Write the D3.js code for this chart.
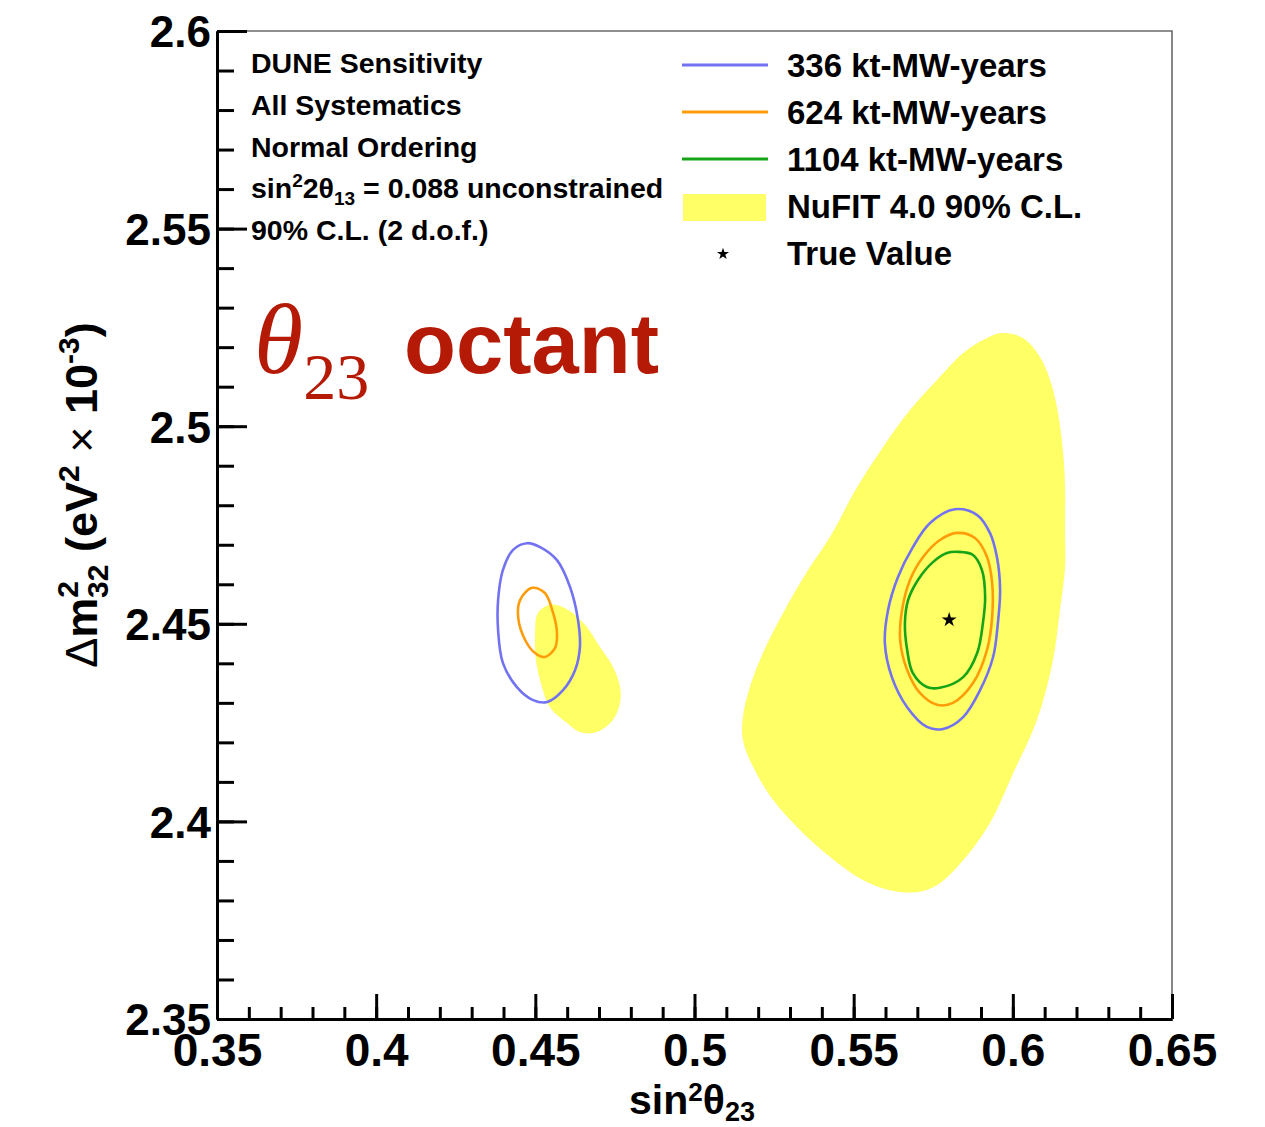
<!DOCTYPE html>
<html><head><meta charset="utf-8">
<script src="https://cdn.jsdelivr.net/npm/d3@7"></script>
<style>
html,body{margin:0;padding:0;background:#fff;}
svg{display:block;}
text{font-family:"Liberation Sans",Arial,sans-serif;font-weight:bold;fill:#000;}
</style></head>
<body>
<svg id="chart" width="1265" height="1127"></svg>
<script>
// ---------------- data (sin^2 theta23, dm2_32 x 1e-3) ----------------
const xTickValues = [0.35, 0.40, 0.45, 0.50, 0.55, 0.60, 0.65];
const xTickLabels = ["0.35", "0.4", "0.45", "0.5", "0.55", "0.6", "0.65"];
const yTickValues = [2.35, 2.40, 2.45, 2.50, 2.55, 2.60];
const yTickLabels = ["2.35", "2.4", "2.45", "2.5", "2.55", "2.6"];

const seriesNames = ["336 kt-MW-years", "624 kt-MW-years", "1104 kt-MW-years"];
const seriesColors = ["#7373f2", "#ff9c0a", "#17a317"];

const nufitUpper = [
  [0.5966,2.5236],[0.6032,2.5223],[0.6085,2.5175],[0.6117,2.5117],[0.6142,2.5033],[0.6158,2.4932],
  [0.6164,2.4846],[0.6164,2.4737],[0.6164,2.4644],[0.6148,2.4535],[0.6126,2.4408],[0.6076,2.4257],
  [0.6001,2.4122],[0.5928,2.3996],[0.5844,2.3902],[0.5762,2.3839],[0.5699,2.3821],[0.5614,2.3826],
  [0.5529,2.3852],[0.5426,2.3910],[0.5322,2.3986],[0.5247,2.4054],[0.5184,2.4138],[0.5152,2.4206],
  [0.5152,2.4264],[0.5174,2.4340],[0.5215,2.4426],[0.5278,2.4527],[0.5353,2.4631],[0.5426,2.4720],
  [0.5511,2.4846],[0.5592,2.4947],[0.5677,2.5041],[0.5762,2.5117],[0.5844,2.5185],[0.5906,2.5218]
];
const nufitLower = [
  [0.4546,2.4548],[0.4508,2.4527],[0.4499,2.4467],[0.4502,2.4408],[0.4515,2.4358],[0.4546,2.4289],
  [0.4600,2.4249],[0.4640,2.4226],[0.4694,2.4226],[0.4744,2.4257],[0.4766,2.4300],[0.4766,2.4340],
  [0.4744,2.4391],[0.4703,2.4441],[0.4662,2.4492],[0.4618,2.4527],[0.4578,2.4545]
];
const c336Lower = [
  [0.4474,2.4704],[0.4515,2.4694],[0.4568,2.4661],[0.4609,2.4593],[0.4634,2.4510],[0.4640,2.4441],
  [0.4625,2.4383],[0.4587,2.4332],[0.4537,2.4302],[0.4493,2.4307],[0.4442,2.4340],[0.4398,2.4401],
  [0.4383,2.4484],[0.4383,2.4560],[0.4398,2.4636],[0.4430,2.4687]
];
const c624Lower = [
  [0.4490,2.4591],[0.4530,2.4578],[0.4556,2.4527],[0.4568,2.4477],[0.4562,2.4439],[0.4530,2.4416],
  [0.4499,2.4426],[0.4468,2.4459],[0.4446,2.4517],[0.4452,2.4560]
];
const c336Upper = [
  [0.5818,2.4790],[0.5888,2.4775],[0.5928,2.4730],[0.5950,2.4669],[0.5960,2.4586],[0.5953,2.4502],
  [0.5938,2.4416],[0.5897,2.4332],[0.5844,2.4264],[0.5781,2.4234],[0.5730,2.4239],[0.5668,2.4289],
  [0.5620,2.4365],[0.5598,2.4451],[0.5608,2.4535],[0.5639,2.4618],[0.5686,2.4694],[0.5740,2.4755]
];
const c624Upper = [
  [0.5825,2.4730],[0.5881,2.4717],[0.5919,2.4669],[0.5935,2.4603],[0.5935,2.4517],[0.5919,2.4434],
  [0.5875,2.4350],[0.5812,2.4300],[0.5762,2.4295],[0.5708,2.4325],[0.5668,2.4383],[0.5646,2.4459],
  [0.5652,2.4535],[0.5677,2.4611],[0.5718,2.4669],[0.5771,2.4712]
];
const c1104Upper = [
  [0.5828,2.4682],[0.5875,2.4674],[0.5903,2.4636],[0.5913,2.4568],[0.5906,2.4502],[0.5888,2.4426],
  [0.5844,2.4365],[0.5771,2.4338],[0.5730,2.4340],[0.5686,2.4375],[0.5668,2.4434],[0.5661,2.4502],
  [0.5671,2.4560],[0.5702,2.4611],[0.5749,2.4656],[0.5793,2.4679]
];
const trueValue = [0.58, 2.451];

const infoLines = ["DUNE Sensitivity", "All Systematics", "Normal Ordering", "SIN13", "90% C.L. (2 d.o.f.)"];

// ---------------- drawing ----------------
const svg = d3.select("#chart");
const x = d3.scaleLinear().domain([0.35, 0.65]).range([217, 1172]);
const y = d3.scaleLinear().domain([2.35, 2.60]).range([1019, 31]);

const line = d3.line().x(d => x(d[0])).y(d => y(d[1])).curve(d3.curveCatmullRomClosed.alpha(0.5));

const gPlot = svg.append("g");
gPlot.selectAll("path.fill").data([nufitUpper, nufitLower]).join("path")
  .attr("d", line).attr("fill", "#ffff66").attr("stroke", "none");

const contours = [
  {pts: c336Lower, c: 0}, {pts: c624Lower, c: 1},
  {pts: c336Upper, c: 0}, {pts: c624Upper, c: 1}, {pts: c1104Upper, c: 2}
];
gPlot.selectAll("path.cont").data(contours).join("path")
  .attr("d", d => line(d.pts)).attr("fill", "none")
  .attr("stroke", d => seriesColors[d.c]).attr("stroke-width", 2.6);

const star = d3.symbol().type(d3.symbolStar).size(70);
gPlot.append("path").attr("d", star)
  .attr("transform", `translate(${x(trueValue[0])},${y(trueValue[1])})`).attr("fill", "#000");

// frame (top & right)
svg.append("path")
  .attr("d", `M${x(0.35)},${y(2.6)}H${x(0.65)}V${y(2.35)}`)
  .attr("fill", "none").attr("stroke", "#6a6a6a").attr("stroke-width", 1.6);

// x axis
const xMinor = d3.range(0, 31).map(i => 0.35 + i * 0.01);
const gx = svg.append("g").attr("transform", `translate(0,${y(2.35)})`);
gx.call(d3.axisBottom(x).tickValues(xMinor).tickSize(-12).tickSizeOuter(0).tickFormat(""));
gx.append("g").call(d3.axisBottom(x).tickValues(xTickValues).tickSize(-25).tickSizeOuter(0)
  .tickFormat((d, i) => xTickLabels[i]).tickPadding(14));
gx.selectAll("path.domain").attr("stroke", "#000").attr("stroke-width", 3);
gx.selectAll("line").attr("stroke", "#000").attr("stroke-width", 3);
gx.selectAll("text").attr("font-size", 46).attr("dy", "0.71em")
  .style("font-family", "'Liberation Sans',Arial,sans-serif").style("font-weight", "bold").attr("fill", "#000");

// y axis
const yMinor = d3.range(0, 26).map(i => 2.35 + i * 0.01);
const gy = svg.append("g").attr("transform", `translate(${x(0.35)},0)`);
gy.call(d3.axisLeft(y).tickValues(yMinor).tickSize(-17).tickSizeOuter(0).tickFormat(""));
gy.append("g").call(d3.axisLeft(y).tickValues(yTickValues).tickSize(-30).tickSizeOuter(0)
  .tickFormat((d, i) => yTickLabels[i]).tickPadding(6));
gy.selectAll("path.domain").attr("stroke", "#000").attr("stroke-width", 3);
gy.selectAll("line").attr("stroke", "#000").attr("stroke-width", 3);
gy.selectAll("text").attr("font-size", 44).attr("dy", "0.36em")
  .style("font-family", "'Liberation Sans',Arial,sans-serif").style("font-weight", "bold").attr("fill", "#000");

// x title
const xt = svg.append("text").attr("x", 692).attr("y", 1114).attr("text-anchor", "middle").attr("font-size", 41);
xt.append("tspan").text("sin");
xt.append("tspan").attr("font-size", 26).attr("dy", -13).text("2");
xt.append("tspan").attr("dy", 13).text("θ");
xt.append("tspan").attr("font-size", 27).attr("dy", 7).text("23");

// y title
const yt = svg.append("text").attr("transform", "translate(97,495) rotate(-90)")
  .attr("text-anchor", "middle").attr("font-size", 45);
yt.append("tspan").style("font-weight", "normal").text("Δ");
yt.append("tspan").text("m");
yt.append("tspan").attr("font-size", 30).attr("dy", -19).text("2");
yt.append("tspan").attr("font-size", 30).attr("dx", -17).attr("dy", 30).text("32");
yt.append("tspan").attr("dy", -11).text(" (eV");
yt.append("tspan").attr("font-size", 30).attr("dy", -18).text("2");
yt.append("tspan").attr("dy", 18).style("font-weight", "normal").text(" × ");
yt.append("tspan").text("10");
yt.append("tspan").attr("font-size", 30).attr("dy", -18).text("-3");
yt.append("tspan").attr("dy", 18).text(")");

// info text
const gi = svg.append("g");
infoLines.forEach((t, i) => {
  const tx = gi.append("text").attr("x", 251).attr("y", 73 + i * 41.8).attr("font-size", 28.5);
  if (t === "SIN13") {
    tx.append("tspan").text("sin");
    tx.append("tspan").attr("font-size", 19).attr("dy", -11).text("2");
    tx.append("tspan").attr("dy", 11).text("2θ");
    tx.append("tspan").attr("font-size", 19).attr("dy", 7).text("13");
    tx.append("tspan").attr("dy", -7).text(" = 0.088 unconstrained");
  } else tx.text(t);
});

// legend
const gl = svg.append("g");
seriesNames.forEach((n, i) => {
  const yy = 65 + i * 47;
  gl.append("line").attr("x1", 682).attr("x2", 768).attr("y1", yy).attr("y2", yy)
    .attr("stroke", seriesColors[i]).attr("stroke-width", 3);
  gl.append("text").attr("x", 787).attr("y", yy + 12).attr("font-size", 33).text(n);
});
gl.append("rect").attr("x", 683).attr("y", 194).attr("width", 83).attr("height", 27).attr("fill", "#ffff66");
gl.append("text").attr("x", 787).attr("y", 218).attr("font-size", 33).text("NuFIT 4.0 90% C.L.");
gl.append("path").attr("d", d3.symbol().type(d3.symbolStar).size(45)).attr("transform", "translate(723,254)").attr("fill", "#000");
gl.append("text").attr("x", 787).attr("y", 265).attr("font-size", 33).text("True Value");

// annotation
const ann = svg.append("text").attr("x", 254).attr("y", 373).attr("fill", "#b41a05");
ann.append("tspan").style("font-family", "'Liberation Serif','Times New Roman',serif")
  .style("font-style", "italic").style("font-weight", "normal").attr("font-size", 100).attr("fill", "#b41a05").text("θ");
ann.append("tspan").style("font-family", "'Liberation Serif','Times New Roman',serif")
  .style("font-weight", "normal").attr("font-size", 66).attr("fill", "#b41a05").attr("dy", 26).text("23");
ann.append("tspan").attr("font-size", 85).attr("fill", "#b41a05").attr("dy", -26).attr("x", 404).text("octant");
</script>
</body></html>
